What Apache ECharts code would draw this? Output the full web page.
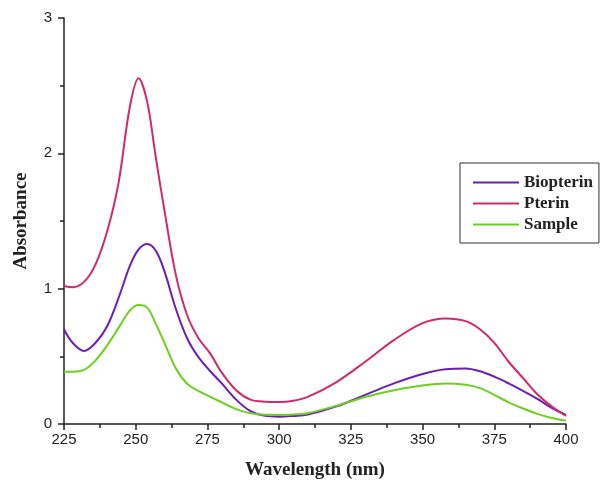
<!DOCTYPE html>
<html>
<head>
<meta charset="utf-8">
<script src="https://cdn.jsdelivr.net/npm/echarts@6/dist/echarts.min.js"></script>
<style>
  html, body { margin: 0; padding: 0; background: #fff; }
  #chart { width: 600px; height: 486px; }
</style>
</head>
<body>
<div id="chart"></div>
<script>
// wavelength (nm)
const wavelengths = [225, 228, 232, 236, 240, 244, 248, 251, 254, 257, 260, 264, 268, 272, 276, 280, 285, 290, 295, 300, 305, 310, 320, 330, 340, 350, 358, 365, 370, 375, 380, 385, 390, 395, 400]

// absorbance readings
const biopterin = [0.70, 0.60, 0.54, 0.60, 0.72, 0.93, 1.17, 1.29, 1.33, 1.28, 1.13, 0.85, 0.63, 0.49, 0.39, 0.30, 0.18, 0.095, 0.06, 0.054, 0.06, 0.07, 0.13, 0.215, 0.30, 0.37, 0.405, 0.41, 0.39, 0.35, 0.30, 0.245, 0.185, 0.12, 0.067]
const pterin = [1.02, 1.01, 1.05, 1.18, 1.42, 1.78, 2.35, 2.555, 2.38, 1.97, 1.58, 1.10, 0.80, 0.63, 0.52, 0.38, 0.25, 0.18, 0.165, 0.163, 0.172, 0.20, 0.31, 0.46, 0.62, 0.745, 0.78, 0.76, 0.70, 0.60, 0.46, 0.34, 0.22, 0.13, 0.06]
const sample = [0.387, 0.387, 0.40, 0.47, 0.58, 0.71, 0.84, 0.88, 0.86, 0.74, 0.60, 0.41, 0.295, 0.243, 0.20, 0.16, 0.11, 0.079, 0.068, 0.067, 0.071, 0.08, 0.135, 0.20, 0.25, 0.285, 0.30, 0.29, 0.265, 0.215, 0.16, 0.115, 0.075, 0.045, 0.025]

const seriesNames = ['Biopterin', 'Pterin', 'Sample']
const seriesColors = ['#6a1fb5', '#cf2a6c', '#6fcf1f']

const pairs = (ys) => wavelengths.map((x, i) => [x, ys[i]])

const chart = echarts.init(document.getElementById('chart'))

const axisFont = { color: '#222', fontSize: 15, fontFamily: 'Liberation Sans, Arial, sans-serif' }
const titleFont = { color: '#222', fontSize: 19, fontWeight: 'bold', fontFamily: 'Liberation Serif, Times New Roman, serif' }

const makeLine = (i, ys) => ({
  name: seriesNames[i],
  type: 'line',
  smooth: 0.35,
  symbol: 'none',
  data: pairs(ys),
  lineStyle: { color: seriesColors[i], width: 2 },
  itemStyle: { color: seriesColors[i] }
})

const option = {
  animation: false,
  backgroundColor: '#fff',
  grid: { left: 64, right: 34, top: 18, bottom: 62 },
  legend: {
    left: 460,
    top: 163,
    orient: 'vertical',
    data: seriesNames,
    icon: 'rect',
    itemWidth: 46,
    itemHeight: 2,
    itemGap: 4,
    padding: [11, 6, 10, 13],
    borderColor: '#333',
    borderWidth: 1,
    textStyle: { color: '#222', fontSize: 17, fontWeight: 'bold', fontFamily: 'Liberation Serif, Times New Roman, serif' }
  },
  xAxis: {
    type: 'value',
    min: 225,
    max: 400,
    interval: 25,
    name: 'Wavelength (nm)',
    nameLocation: 'middle',
    nameGap: 37,
    nameTextStyle: titleFont,
    axisLine: { lineStyle: { color: '#222', width: 1.5 } },
    axisTick: { length: 6, lineStyle: { color: '#222', width: 1.5 } },
    minorTick: { show: true, splitNumber: 2, length: 4, lineStyle: { color: '#222', width: 1.5 } },
    axisLabel: Object.assign({ margin: 8 }, axisFont),
    splitLine: { show: false }
  },
  yAxis: {
    type: 'value',
    min: 0,
    max: 3,
    interval: 1,
    name: 'Absorbance',
    nameLocation: 'middle',
    nameGap: 33,
    nameTextStyle: titleFont,
    axisLine: { show: true, lineStyle: { color: '#222', width: 1.5 } },
    axisTick: { show: true, length: 6, lineStyle: { color: '#222', width: 1.5 } },
    minorTick: { show: true, splitNumber: 2, length: 4, lineStyle: { color: '#222', width: 1.5 } },
    axisLabel: Object.assign({ margin: 12 }, axisFont),
    splitLine: { show: false }
  },
  series: [
    makeLine(0, biopterin),
    makeLine(1, pterin),
    makeLine(2, sample)
  ]
}

chart.setOption(option)
</script>
</body>
</html>
